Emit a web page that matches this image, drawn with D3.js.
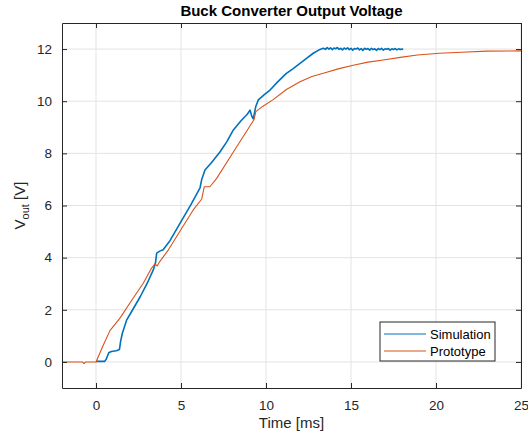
<!DOCTYPE html>
<html><head><meta charset="utf-8">
<script src="https://cdn.jsdelivr.net/npm/d3@7"></script>
<style>
body{margin:0;background:#fff;}
svg{display:block;font-family:"Liberation Sans",Arial,Helvetica,sans-serif;}
</style></head>
<body><svg id="c" width="528" height="436"></svg>
<script>
const simT = [0,0.5,0.6,0.75,0.9,1.2,1.38,1.45,1.55,1.8,2.2,2.6,3.0,3.37,3.5,3.57,3.75,3.95,4.35,5.0,5.6,6.12,6.22,6.41,6.8,7.29,7.7,8.08,8.53,8.9,9.06,9.15,9.25,9.4,9.55,9.9,10.24,10.7,11.2,11.6,12.0,12.4,12.78,13.1,13.37,
  13.5,13.6,13.7,13.8,13.9,14.0,14.1,14.2,14.3,14.4,14.5,14.6,14.7,14.8,14.9,15.0,15.1,15.2,15.3,15.4,15.5,15.6,15.7,15.8,15.9,16.0,16.1,16.2,16.3,16.4,16.5,16.6,16.7,16.8,16.9,17.0,17.1,17.2,17.3,17.4,17.5,17.6,17.7,17.8,17.9,18.0,18.07];
const simV = [0.02,0.02,0.1,0.35,0.4,0.43,0.48,0.8,1.1,1.6,2.05,2.5,3.0,3.53,3.8,4.17,4.25,4.3,4.65,5.38,6.05,6.68,7.0,7.36,7.65,8.05,8.45,8.9,9.25,9.5,9.66,9.45,9.32,9.8,10.05,10.25,10.43,10.75,11.07,11.25,11.45,11.65,11.84,11.96,12.03,
  11.99,12.06,12.0,12.05,11.98,12.04,12.01,12.06,11.99,12.03,11.97,12.04,12.0,12.05,11.98,12.03,11.96,12.02,12.0,12.04,11.97,12.02,11.95,12.03,11.99,12.02,11.96,12.03,11.98,12.01,11.95,12.02,11.98,12.03,11.96,12.01,11.99,12.02,11.96,12.01,11.98,12.02,11.97,12.01,11.98,12.0,11.98];
const protoT = [-2,-0.8,-0.7,-0.6,0,0.4,0.82,1.41,2.19,2.78,3.27,3.47,3.6,3.75,4.25,5.0,5.72,6.22,6.37,6.7,7.1,8.08,9.3,9.4,9.8,10.4,11.2,12.0,12.7,13.37,14.3,15.2,16.0,16.9,17.9,18.9,20.2,21.5,23,25];
const protoV = [0,0,-0.06,0,0,0.6,1.2,1.68,2.45,3.02,3.6,3.76,3.68,3.85,4.29,5.08,5.83,6.25,6.72,6.72,7.04,8.05,9.3,9.6,9.8,10.05,10.45,10.75,10.95,11.07,11.25,11.39,11.5,11.58,11.68,11.77,11.84,11.88,11.92,11.93];
const xTicks = [0,5,10,15,20,25];
const yTicks = [0,2,4,6,8,10,12];
const seriesNames = ["Simulation","Prototype"];
const colors = ["#0072BD","#D95319"];

const svg = d3.select("#c");
const L=62,R=521,T=23,B=388;
const x = d3.scaleLinear().domain([-2,25]).range([L,R]);
const y = d3.scaleLinear().domain([-1,13]).range([B,T]);
const axisCol="#262626";

// grid
const g = svg.append("g");
g.selectAll(".gx").data(xTicks).join("line").attr("x1",d=>x(d)).attr("x2",d=>x(d)).attr("y1",T).attr("y2",B).attr("stroke","#e3e3e3").attr("stroke-width",1);
g.selectAll(".gy").data(yTicks).join("line").attr("x1",L).attr("x2",R).attr("y1",d=>y(d)).attr("y2",d=>y(d)).attr("stroke","#e3e3e3").attr("stroke-width",1);

// lines
const line = d3.line().x(d=>x(d[0])).y(d=>y(d[1]));
const simData = simT.map((t,i)=>[t,simV[i]]);
const protoData = protoT.map((t,i)=>[t,protoV[i]]);
svg.append("path").datum(simData).attr("d",line).attr("fill","none").attr("stroke",colors[0]).attr("stroke-width",1.6).attr("stroke-linejoin","round");
svg.append("path").datum(protoData).attr("d",line).attr("fill","none").attr("stroke",colors[1]).attr("stroke-width",1.1).attr("stroke-linejoin","round");

// axes
const xa = svg.append("g").attr("transform",`translate(0,${B})`).call(d3.axisBottom(x).tickValues(xTicks).tickSizeInner(-5).tickSizeOuter(0).tickPadding(12));
const xt = svg.append("g").attr("transform",`translate(0,${T})`).call(d3.axisTop(x).tickValues(xTicks).tickSizeInner(-5).tickSizeOuter(0).tickFormat(""));
const ya = svg.append("g").attr("transform",`translate(${L},0)`).call(d3.axisLeft(y).tickValues(yTicks).tickSizeInner(-5).tickSizeOuter(0).tickPadding(10));
const yr = svg.append("g").attr("transform",`translate(${R},0)`).call(d3.axisRight(y).tickValues(yTicks).tickSizeInner(-5).tickSizeOuter(0).tickFormat(""));
[xa,xt,ya,yr].forEach(a=>{
  a.select(".domain").attr("stroke",axisCol).attr("stroke-width",1);
  a.selectAll(".tick line").attr("stroke",axisCol);
  a.selectAll(".tick text").attr("fill",axisCol).attr("font-size",13.5).attr("font-family","'Liberation Sans',Arial,sans-serif");
});

// title
svg.append("text").attr("x",(L+R)/2).attr("y",16).attr("text-anchor","middle").attr("font-weight","bold").attr("font-size",15).attr("fill","#000").text("Buck Converter Output Voltage");
// x label
svg.append("text").attr("x",(L+R)/2).attr("y",428).attr("text-anchor","middle").attr("font-size",15).attr("fill",axisCol).text("Time [ms]");
// y label
const yl = svg.append("text").attr("transform",`translate(25,${(T+B)/2}) rotate(-90)`).attr("text-anchor","middle").attr("font-size",15).attr("fill",axisCol);
yl.append("tspan").text("V");
yl.append("tspan").attr("font-size",11).attr("dy",4).text("out");
yl.append("tspan").attr("dy",-4).text(" [V]");

// legend
const lg = svg.append("g");
lg.append("rect").attr("x",380).attr("y",322).attr("width",115).attr("height",39).attr("fill","#fff").attr("stroke",axisCol).attr("stroke-width",1);
seriesNames.forEach((n,i)=>{
  const yy = 334 + i*17;
  lg.append("line").attr("x1",384).attr("x2",426).attr("y1",yy).attr("y2",yy).attr("stroke",colors[i]).attr("stroke-width",1);
  lg.append("text").attr("x",430).attr("y",yy+4.5).attr("font-size",13).attr("fill","#000").text(n);
});
</script></body></html>
